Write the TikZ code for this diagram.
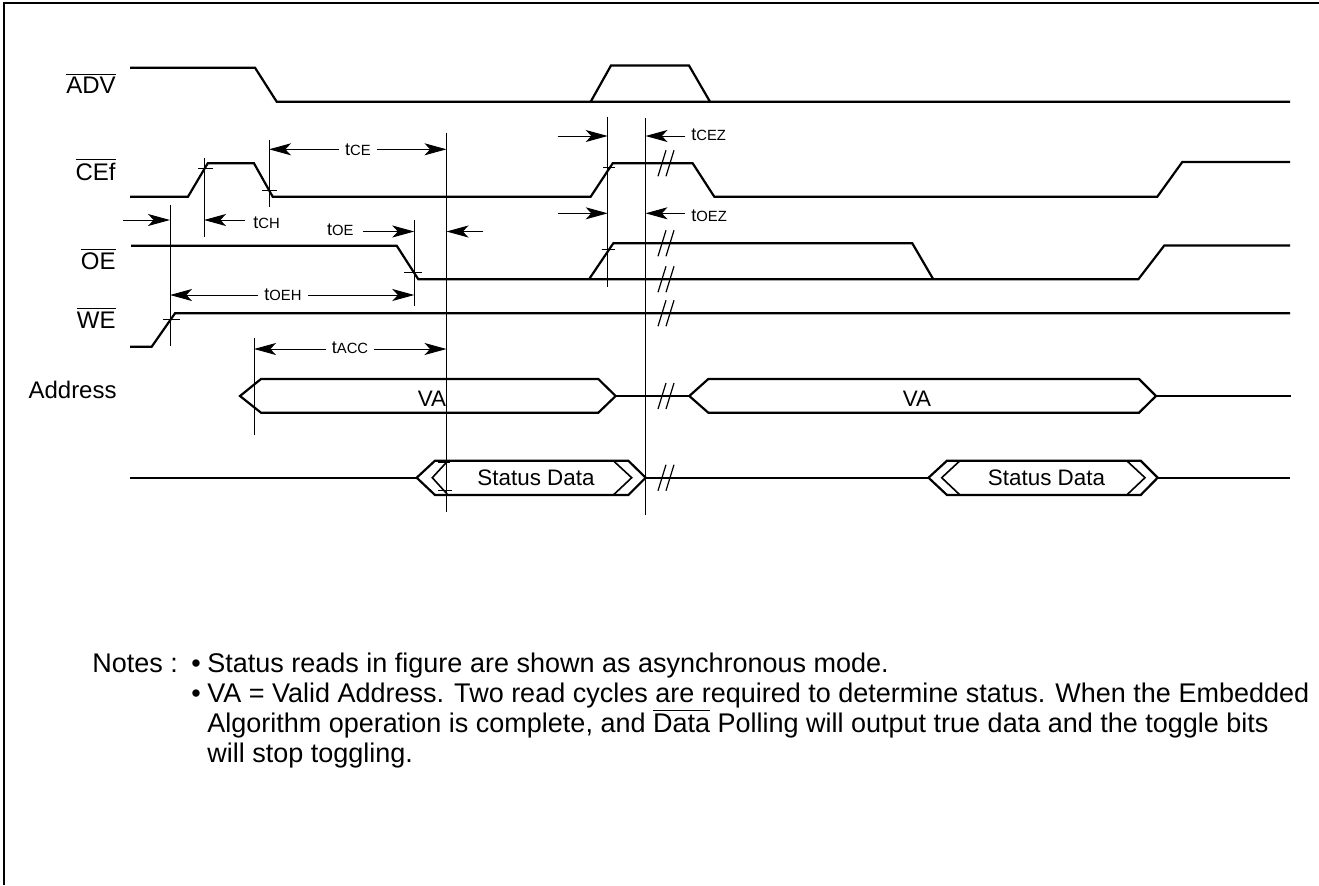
\documentclass[tikz,border=0pt]{standalone}
\usepackage{fontspec}
\setmainfont{Liberation Sans}
\usetikzlibrary{arrows.meta}
\newcommand{\ovl}[1]{$\overline{\mbox{#1}}$}
\newcommand{\tname}[1]{t{\fontsize{7.4}{8}\selectfont #1}}
\begin{document}
\begin{tikzpicture}[x=0.5pt,y=-0.5pt,
  sig/.style={line width=1.1pt,line join=miter},
  inner/.style={line width=0.8pt},
  guide/.style={line width=0.5pt},
  tick/.style={line width=0.5pt},
  dimarr/.style={line width=0.5pt,-{Stealth[length=11pt,width=6pt,inset=2.8pt]}},
  dimboth/.style={line width=0.5pt,{Stealth[length=11pt,width=6pt,inset=2.8pt]}-{Stealth[length=11pt,width=6pt,inset=2.8pt]}},
  frame/.style={line width=1pt},
  siglabel/.style={anchor=base east,inner sep=0pt,font=\fontsize{12}{14}\selectfont},
  buslabel/.style={anchor=base,inner sep=0pt,font=\fontsize{11.2}{13}\selectfont},
  tlabel/.style={anchor=base,fill=white,inner xsep=3pt,inner ysep=1.5pt,font=\fontsize{9}{10}\selectfont},
  tside/.style={anchor=base west,inner sep=0pt,font=\fontsize{9}{10}\selectfont},
  notetext/.style={anchor=base west,inner sep=0pt,font=\fontsize{13.5}{15}\selectfont},
  brk/.pic={\draw[line width=0.6pt] (-8,13) -- (0,-13) (0,13) -- (8,-13);}
]
\useasboundingbox (0,0) rectangle (1319,885);

% page frame (left and top edges)
\draw[frame] (4.3,885) -- (4.3,3.3) -- (1319,3.3);

% signal names
\node[siglabel] (lADV) at (116,93.3) {\ovl{ADV}};
\node[siglabel] (lCEf) at (116,180) {\ovl{CEf}};
\node[siglabel] (lOE) at (116,269) {\ovl{OE}};
\node[siglabel] (lWE) at (116,328) {\ovl{WE}};
\node[siglabel] (lAddr) at (117,398) {Address};

% ADV#
\draw[sig] (130,67.7) -- (255,67.7) -- (276.7,101.7) -- (1290,101.7);
\draw[sig] (590.7,101.7) -- (611,65.5) -- (689,65.5) -- (710,101.7);

% CEf#
\draw[sig] (130,196.7) -- (188,196.7) -- (207.7,163.3) -- (254,163.3) -- (272.7,196.7)
  -- (590.7,196.7) -- (612.7,163.3) -- (692.7,163.3) -- (714.3,196.7)
  -- (1157.3,196.7) -- (1182.3,162) -- (1290,162);

% OE#
\draw[sig] (131,245.7) -- (396.7,245.7) -- (418.3,279.3) -- (1138.3,279.3) -- (1164.3,245.5) -- (1290,245.5);
\draw[sig] (589,279.3) -- (613.3,243.3) -- (912.3,243.3) -- (933.3,279.3);

% WE#
\draw[sig] (130,346.7) -- (151.7,346.7) -- (175,313.3) -- (1290,313.3);

% Address bus
\draw[sig] (261,379) -- (598.3,379) -- (615.7,396) -- (598.3,412.7) -- (261,412.7) -- (240,396) -- cycle;
\draw[sig] (615.7,396) -- (689.3,396);
\draw[sig] (708.3,379) -- (1139,379) -- (1156,396) -- (1139,412.7) -- (708.3,412.7) -- (689.3,396) -- cycle;
\draw[sig] (1156,396) -- (1290.7,396);
\node[buslabel] (va1) at (432,406.5) {VA};
\node[buslabel] (va2) at (917,406.5) {VA};

% Data bus
\draw[sig] (130,477.7) -- (416.7,477.7);
\draw[sig] (435,460.7) -- (628.3,460.7) -- (645.7,477.7) -- (628.3,495) -- (435,495) -- (416.7,477.7) -- cycle;
\draw[inner] (448,460.7) -- (432.3,477.7) -- (448,495);
\draw[inner] (613.3,460.7) -- (631.7,477.7) -- (613.3,495);
\draw[sig] (645.7,477.7) -- (928.5,477.7);
\draw[sig] (947,460.7) -- (1140.7,460.7) -- (1157.7,477.7) -- (1140.7,495) -- (947,495) -- (928.5,477.7) -- cycle;
\draw[inner] (960,460.7) -- (941.7,477.7) -- (960,495);
\draw[inner] (1126.7,460.7) -- (1145,477.7) -- (1126.7,495);
\draw[sig] (1157.7,477.7) -- (1290,477.7);
\node[buslabel] (sd1) at (536,485) {Status Data};
\node[buslabel] (sd2) at (1046.5,485) {Status Data};

% break marks
\foreach \yy in {163.3,243.3,279.3,313.3,396,477.7}
  \pic at (666,\yy) {brk};

% reference lines
\draw[guide] (170,205) -- (170,346);
\draw[guide] (204,158) -- (204,236.7);
\draw[guide] (269,140) -- (269,206.7);
\draw[guide] (414.3,220) -- (414.3,306);
\draw[guide] (446.5,132.7) -- (446.5,512);
\draw[guide] (254,338) -- (254,435);
\draw[guide] (607.7,116.7) -- (607.7,286.7);
\draw[guide] (645.5,118) -- (645.5,515);

% crossing ticks
\draw[tick] (198,168.3) -- (213,168.3);
\draw[tick] (262,190.7) -- (277,190.7);
\draw[tick] (404,272.7) -- (421.7,272.7);
\draw[tick] (163,319.3) -- (180,319.3);
\draw[tick] (603,167.7) -- (615,167.7);
\draw[tick] (601.7,249.3) -- (615,249.3);
\draw[tick] (438,462.7) -- (450,462.7);
\draw[tick] (438,490.5) -- (452,490.5);

% timing parameters
\coordinate (ceA) at (269,149.3);  \coordinate (ceB) at (446.5,149.3);
\draw[dimboth] (ceA) -- (ceB);
\node[tlabel] (tce) at (358,155) {\tname{CE}};

\coordinate (chA) at (245,220);   \coordinate (chB) at (204,220);
\draw[dimarr] (chA) -- (chB);
\node[tside] (tch) at (253,228) {\tname{CH}};

\coordinate (ohA) at (123,220);   \coordinate (ohB) at (170,220);
\draw[dimarr] (ohA) -- (ohB);

\coordinate (oeA) at (363,231.5); \coordinate (oeB) at (414.3,231.5);
\draw[dimarr] (oeA) -- (oeB);
\node[anchor=base east,inner sep=0pt,font=\fontsize{9}{10}\selectfont] (toe) at (354,235.5) {\tname{OE}};

\coordinate (oeC) at (483,231.5); \coordinate (oeD) at (446.5,231.5);
\draw[dimarr] (oeC) -- (oeD);

\coordinate (oehA) at (170,295);  \coordinate (oehB) at (414.3,295);
\draw[dimboth] (oehA) -- (oehB);
\node[tlabel] (toeh) at (283,300.7) {\tname{OEH}};

\coordinate (accA) at (254,349);  \coordinate (accB) at (446.5,349);
\draw[dimboth] (accA) -- (accB);
\node[tlabel] (tacc) at (350,353.3) {\tname{ACC}};

\coordinate (cezA) at (557.7,136); \coordinate (cezB) at (607.7,136);
\coordinate (cezC) at (685,136);   \coordinate (cezD) at (645.5,136);
\draw[dimarr] (cezA) -- (cezB);
\draw[dimarr] (cezC) -- (cezD);
\node[tside] (tcez) at (691,140.7) {\tname{CEZ}};

\coordinate (oezA) at (557.7,213.3); \coordinate (oezB) at (607.7,213.3);
\coordinate (oezC) at (685,213.3);   \coordinate (oezD) at (645.5,213.3);
\draw[dimarr] (oezA) -- (oezB);
\draw[dimarr] (oezC) -- (oezD);
\node[tside] (toez) at (691,221.7) {\tname{OEZ}};

% notes
\node[notetext] (n0) at (92,672) {Notes :};
\node[notetext] (b1) at (191,672) {•};
\node[notetext] (n1) at (207,672) {Status reads in figure are shown as asynchronous mode.};
\node[notetext] (b2) at (191,702) {•};
\node[notetext] (n2) at (207,702) {VA = Valid Address. Two read cycles are required to determine status. When the Embedded};
\node[notetext] (n3) at (207,732) {Algorithm operation is complete, and \ovl{Data} Polling will output true data and the toggle bits};
\node[notetext] (n4) at (207,762) {will stop toggling.};
\end{tikzpicture}
\end{document}
